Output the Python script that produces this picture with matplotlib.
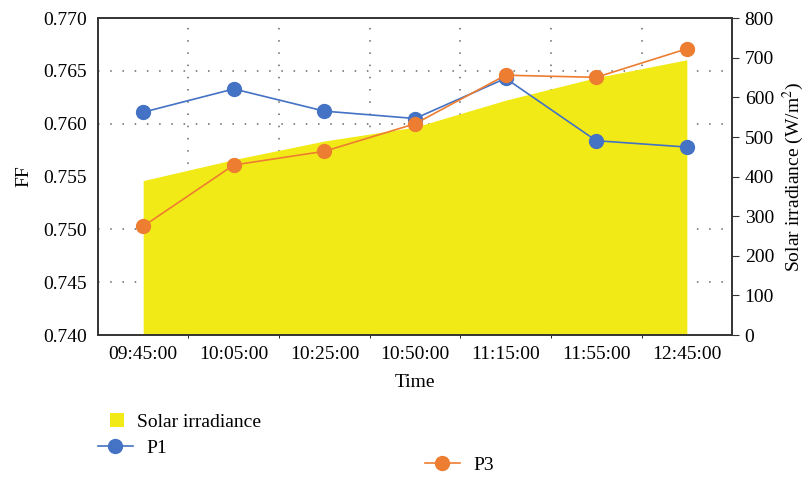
import matplotlib.pyplot as plt
from matplotlib.lines import Line2D
from matplotlib.patches import Patch
import numpy as np

plt.rcParams['font.family'] = ['Liberation Serif', 'DejaVu Serif']
plt.rcParams['font.size'] = 14
plt.rcParams['mathtext.fontset'] = 'stix'

# data
times = ['09:45:00', '10:05:00', '10:25:00', '10:50:00', '11:15:00', '11:55:00', '12:45:00']
p1 = [0.7611, 0.7633, 0.7612, 0.7605, 0.7643, 0.7584, 0.7578]
p3 = [0.7503, 0.7561, 0.7574, 0.7600, 0.7646, 0.7644, 0.7671]
irradiance = [390, 443, 490, 525, 593, 650, 695]

blue = '#4472C4'
orange = '#ED7D31'
yellow = '#F2EA17'
spine = '#333333'

fig = plt.figure(figsize=(8.09, 4.78), dpi=100)
ax = fig.add_axes([0.121, 0.299, 0.784, 0.663])
ax2 = ax.twinx()

x = np.arange(len(times))

# irradiance fill on the back axis, grid lives there too so the fill hides it
ax2.fill_between(x, 0, irradiance, color=yellow, linewidth=0, zorder=2)
ax2.set_ylim(0, 800)
ax2.set_yticks(np.arange(0, 801, 100))
ax2.set_yticks(np.linspace(0, 800, 7)[1:-1], minor=True)
ax2.xaxis.set_visible(True)
ax2.set_xticks(x[:-1] + 0.5, minor=True)
ax2.set_xticks([])
ax2.tick_params(axis='x', which='both', length=0, labelbottom=False, labeltop=False)
ax2.tick_params(axis='y', which='minor', length=0)
ax2.tick_params(axis='y', which='major', direction='out', length=5, color=spine, pad=4)
ax2.grid(True, which='minor', color='#666666', linestyle=(0, (1, 7)), linewidth=1.1, zorder=1)
ax2.set_ylabel('Solar irradiance (W/m$^2$)', labelpad=5)

# FF lines on the front axis
ax.set_zorder(ax2.get_zorder() + 1)
ax.patch.set_visible(False)
ax.plot(x, p1, color=blue, marker='o', markersize=10, linewidth=1.2)
ax.plot(x, p3, color=orange, marker='o', markersize=10, linewidth=1.2)
ax.set_xlim(-0.5, len(times) - 0.5)
ax.set_ylim(0.740, 0.770)
ax.set_yticks(np.linspace(0.740, 0.770, 7))
ax.set_yticklabels([f'{v:.3f}' for v in np.linspace(0.740, 0.770, 7)])
ax.set_xticks(x)
ax.set_xticklabels(times)
ax.tick_params(axis='both', length=0, pad=8)
ax.set_ylabel('FF', labelpad=8)
ax.set_xlabel('Time', labelpad=8)

for a in (ax, ax2):
    for s in a.spines.values():
        s.set_color(spine)
        s.set_linewidth(1.2)

h_irr = Patch(facecolor=yellow, edgecolor='none')
h_p1 = Line2D([], [], color=blue, marker='o', markersize=10, linewidth=1.2)
h_p3 = Line2D([], [], color=orange, marker='o', markersize=10, linewidth=1.2)

leg_kw = dict(frameon=False, handlelength=1.8, handletextpad=0.7, borderaxespad=0,
              borderpad=0, fontsize=14)
fig.legend([h_irr], ['Solar irradiance'], loc='center left', bbox_to_anchor=(0.136, 0.117),
           handlelength=0.7, handleheight=0.7, frameon=False, handletextpad=0.7,
           borderaxespad=0, borderpad=0, fontsize=14)
fig.legend([h_p1], ['P1'], loc='center left', bbox_to_anchor=(0.121, 0.063), **leg_kw)
fig.legend([h_p3], ['P3'], loc='center left', bbox_to_anchor=(0.525, 0.027), **leg_kw)

fig.savefig('out.png', dpi=100)
